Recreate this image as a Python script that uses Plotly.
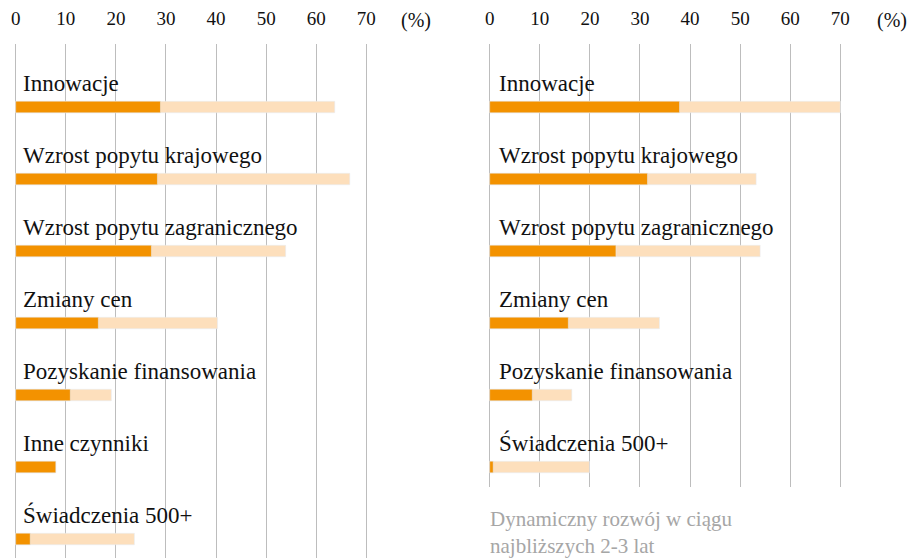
import plotly.graph_objects as go

# ---- data ----
left_categories = ["Innowacje", "Wzrost popytu krajowego", "Wzrost popytu zagranicznego",
                   "Zmiany cen", "Pozyskanie finansowania", "Inne czynniki", "Świadczenia 500+"]
left_total = [63.7, 66.7, 53.9, 40.3, 19.1, 8.0, 23.7]
left_part = [28.9, 28.3, 27.1, 16.5, 10.9, 8.0, 2.9]

right_categories = ["Innowacje", "Wzrost popytu krajowego", "Wzrost popytu zagranicznego",
                    "Zmiany cen", "Pozyskanie finansowania", "Świadczenia 500+"]
right_total = [70.0, 53.2, 54.0, 33.9, 16.4, 19.9]
right_part = [37.9, 31.5, 25.2, 15.7, 8.5, 0.7]

tick_values = [0, 10, 20, 30, 40, 50, 60, 70]
unit_label = "(%)"
note_text = "Dynamiczny rozwój w ciągu<br>najbliższych 2-3 lat"

# ---- styling ----
DARK = "#F39200"
LIGHT = "#FDDFBC"
GRID = "#BDBDBD"
FONT = "'Liberation Serif', 'Times New Roman', serif"
W, H = 909, 558
BAR_W = 0.16

fig = go.Figure()

def add_panel(cats, total, part, xa, ya, label_x):
    pos = list(range(len(cats)))
    fig.add_trace(go.Bar(y=pos, x=total, orientation="h", marker_color=LIGHT,
                         width=BAR_W, xaxis=xa, yaxis=ya, hoverinfo="skip",
                         showlegend=False))
    fig.add_trace(go.Bar(y=pos, x=part, orientation="h", marker_color=DARK,
                         width=BAR_W, xaxis=xa, yaxis=ya, hoverinfo="skip",
                         showlegend=False))
    for p, c in zip(pos, cats):
        fig.add_annotation(x=label_x, y=p - 0.33, xref=xa, yref=ya, text=c, showarrow=False,
                           xanchor="left", yanchor="middle",
                           font=dict(family=FONT, size=23, color="#111111"))

add_panel(left_categories, left_total, left_part, "x", "y", 1.0)
add_panel(right_categories, right_total, right_part, "x2", "y2", 1.4)

px_per = 5.009
def xdom(zero_px):
    return [(zero_px - 3 * px_per) / W, (zero_px + 75 * px_per) / W]

row0, step = 107, 72
top_px = 44
def yrange(bottom_px):
    return [(bottom_px - row0) / step, (top_px - row0) / step]

axis_common = dict(range=[-3, 75], side="top", tickvals=tick_values, showgrid=True,
                   gridcolor=GRID, gridwidth=1, zeroline=False, showline=False,
                   ticks="", tickfont=dict(family=FONT, size=19, color="#111111"),
                   ticklabelstandoff=14, fixedrange=True, automargin=False)

fig.update_layout(
    width=W, height=H, margin=dict(l=0, r=0, t=0, b=0, autoexpand=False),
    paper_bgcolor="white", plot_bgcolor="white", barmode="overlay",
    font=dict(family=FONT),
    xaxis=dict(domain=xdom(15.7), anchor="y", **axis_common),
    xaxis2=dict(domain=xdom(489.7), anchor="y2", **axis_common),
    yaxis=dict(domain=[0, (H - top_px) / H], range=yrange(558), visible=False,
               fixedrange=True, automargin=False),
    yaxis2=dict(domain=[(H - 487) / H, (H - top_px) / H], range=yrange(487),
                visible=False, fixedrange=True, anchor="x2", automargin=False),
)

fig.add_annotation(x=416 / W, y=1 - 20 / H, xref="paper", yref="paper", text=unit_label,
                   showarrow=False, xanchor="center", yanchor="middle",
                   font=dict(family=FONT, size=20, color="#111111"))
fig.add_annotation(x=892 / W, y=1 - 20 / H, xref="paper", yref="paper", text=unit_label,
                   showarrow=False, xanchor="center", yanchor="middle",
                   font=dict(family=FONT, size=20, color="#111111"))
fig.add_annotation(x=488 / W, y=1 - 532 / H, xref="paper", yref="paper", text=note_text,
                   showarrow=False, xanchor="left", yanchor="middle", align="left",
                   font=dict(family=FONT, size=21, color="#A6A6A6"))

fig.write_html("out.html", config={"displayModeBar": False},
               post_script="document.body.style.margin='0';document.body.style.overflow='hidden';")
